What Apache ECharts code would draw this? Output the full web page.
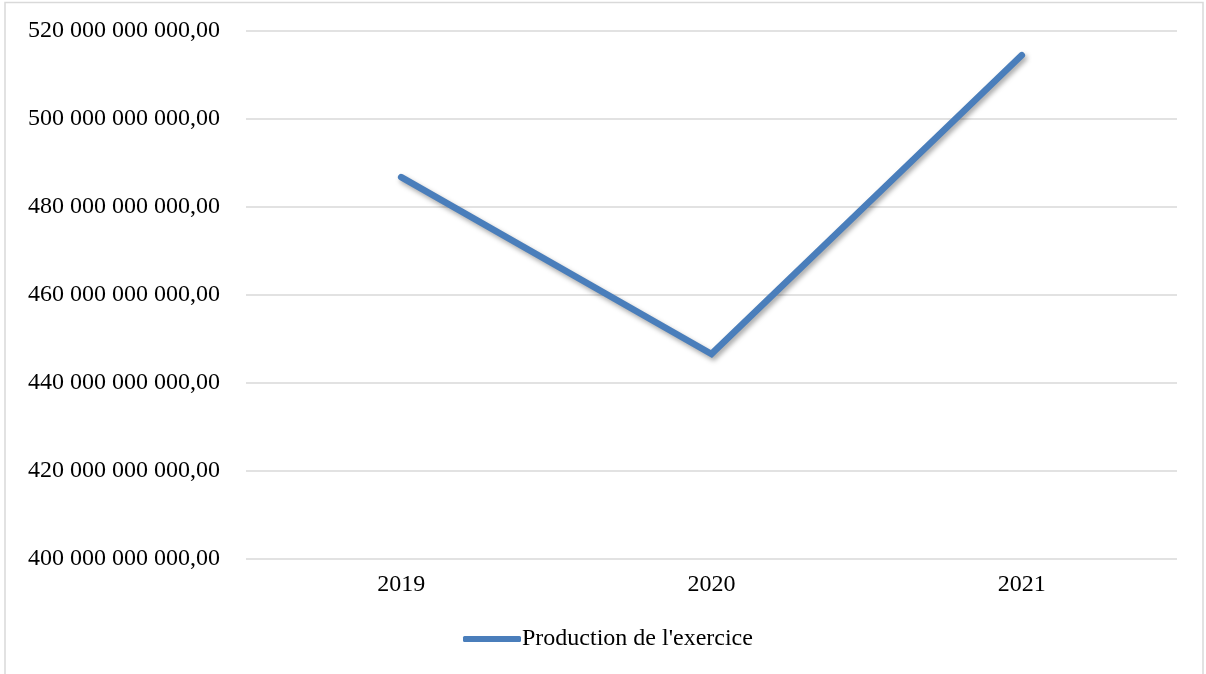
<!DOCTYPE html>
<html>
<head>
<meta charset="utf-8">
<script src="https://cdn.jsdelivr.net/npm/echarts@6/dist/echarts.min.js"></script>
<style>
  html, body { margin: 0; padding: 0; background: #ffffff; }
  #chart { width: 1206px; height: 674px; }
</style>
</head>
<body>
<div id="chart"></div>
<script>
// Production de l'exercice, par année
const years = ['2019', '2020', '2021'];
const production = [486800000000, 446600000000, 514500000000];
const seriesName = "Production de l'exercice";
const yMin = 400000000000;
const yMax = 520000000000;
const yStep = 20000000000;

// French-style number: space as thousands separator, comma decimal
function formatFr(v) {
  const parts = Math.round(v).toString().replace(/\B(?=(\d{3})+(?!\d))/g, ' ');
  return parts + ',00';
}

const font = '"Liberation Serif", "Times New Roman", serif';
const fontSize = 24;
const chart = echarts.init(document.getElementById('chart'), null, { renderer: 'canvas' });

chart.setOption({
  backgroundColor: '#ffffff',
  animation: false,
  graphic: [{
    type: 'rect',
    shape: { x: 5, y: 2.5, width: 1198, height: 700 },
    style: { fill: 'none', stroke: '#d9d9d9', lineWidth: 1.5 },
    silent: true,
    z: -1
  }],
  grid: { left: 246, right: 29, top: 31, bottom: 115 },
  legend: {
    data: [{ name: seriesName, icon: 'roundRect' }],
    left: 458,
    top: 622,
    itemWidth: 58,
    itemHeight: 6,
    textStyle: { fontFamily: font, fontSize: fontSize, color: '#000000', padding: [0, 0, 0, -4] }
  },
  xAxis: {
    type: 'category',
    data: years,
    boundaryGap: true,
    axisLine: { show: false },
    axisTick: { show: false },
    axisLabel: { fontFamily: font, fontSize: fontSize, color: '#000000', margin: 14 }
  },
  yAxis: {
    type: 'value',
    min: yMin,
    max: yMax,
    interval: yStep,
    axisLine: { show: false },
    axisTick: { show: false },
    axisLabel: { fontFamily: font, fontSize: fontSize, color: '#000000', margin: 26, formatter: formatFr },
    splitLine: { lineStyle: { color: '#d9d9d9', width: 1.5 } }
  },
  series: [{
    name: seriesName,
    type: 'line',
    data: production,
    symbol: 'none',
    lineStyle: {
      color: '#4a7ebb',
      width: 6.5,
      cap: 'round',
      join: 'miter',
      shadowColor: 'rgba(0,0,0,0.35)',
      shadowBlur: 5,
      shadowOffsetX: 2,
      shadowOffsetY: 3
    },
    itemStyle: { color: '#4a7ebb' }
  }]
});
</script>
</body>
</html>
